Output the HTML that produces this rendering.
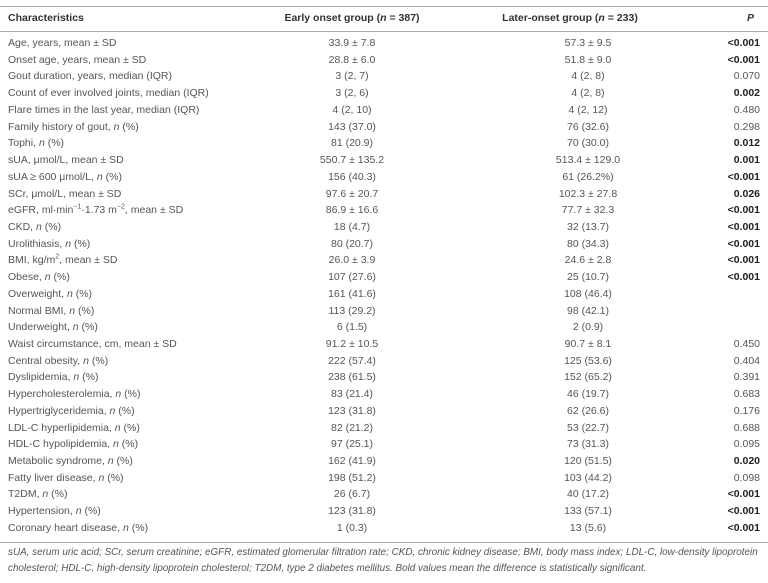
<!DOCTYPE html>
<html><head><meta charset="utf-8"><style>
body{margin:0;width:768px;height:583px;background:#fff;font-family:"Liberation Sans",sans-serif;font-size:10.5px;color:#555;position:relative;overflow:hidden}
.r{position:absolute;left:0;width:768px;height:18px;line-height:18px}
.a{position:absolute;left:8px;white-space:nowrap}
.b{position:absolute;left:272px;width:160px;text-align:center}
.c{position:absolute;left:508px;width:160px;text-align:center}
.d{position:absolute;right:8px;text-align:right}
.bo{font-weight:bold;color:#222}
.ln{position:absolute;left:0;width:768px;background:#aaa}
.h{font-weight:bold;color:#333}
.f{position:absolute;left:8px;font-style:italic;font-size:9.9px;color:#555;white-space:nowrap}
sup{font-size:7px;line-height:0}
</style></head><body>
<div class="ln" style="top:6px;height:1px"></div>
<div class="r h" style="top:9px"><span class="a">Characteristics</span><span class="b" style="left:262px;width:180px">Early onset group (<i>n</i> = 387)</span><span class="c" style="left:480px;width:180px">Later-onset group (<i>n</i> = 233)</span><span class="d" style="right:14px"><i>P</i></span></div>
<div class="ln" style="top:31px;height:1px"></div>
<div id="rows"></div>
<div class="ln" style="top:542px;height:1px"></div>
<div class="f" style="top:547px">sUA, serum uric acid; SCr, serum creatinine; eGFR, estimated glomerular filtration rate; CKD, chronic kidney disease; BMI, body mass index; LDL-C, low-density lipoprotein</div>
<div class="f" style="top:563px">cholesterol; HDL-C, high-density lipoprotein cholesterol; T2DM, type 2 diabetes mellitus. Bold values mean the difference is statistically significant.</div>
<script>
var R=[
["Age, years, mean ± SD","33.9 ± 7.8","57.3 ± 9.5","<0.001",1],
["Onset age, years, mean ± SD","28.8 ± 6.0","51.8 ± 9.0","<0.001",1],
["Gout duration, years, median (IQR)","3 (2, 7)","4 (2, 8)","0.070",0],
["Count of ever involved joints, median (IQR)","3 (2, 6)","4 (2, 8)","0.002",1],
["Flare times in the last year, median (IQR)","4 (2, 10)","4 (2, 12)","0.480",0],
["Family history of gout, <i>n</i> (%)","143 (37.0)","76 (32.6)","0.298",0],
["Tophi, <i>n</i> (%)","81 (20.9)","70 (30.0)","0.012",1],
["sUA, μmol/L, mean ± SD","550.7 ± 135.2","513.4 ± 129.0","0.001",1],
["sUA ≥ 600 μmol/L, <i>n</i> (%)","156 (40.3)","61 (26.2%)","<0.001",1],
["SCr, μmol/L, mean ± SD","97.6 ± 20.7","102.3 ± 27.8","0.026",1],
["eGFR, ml·min<sup>−1</sup>·1.73 m<sup>−2</sup>, mean ± SD","86.9 ± 16.6","77.7 ± 32.3","<0.001",1],
["CKD, <i>n</i> (%)","18 (4.7)","32 (13.7)","<0.001",1],
["Urolithiasis, <i>n</i> (%)","80 (20.7)","80 (34.3)","<0.001",1],
["BMI, kg/m<sup>2</sup>, mean ± SD","26.0 ± 3.9","24.6 ± 2.8","<0.001",1],
["Obese, <i>n</i> (%)","107 (27.6)","25 (10.7)","<0.001",1],
["Overweight, <i>n</i> (%)","161 (41.6)","108 (46.4)","",0],
["Normal BMI, <i>n</i> (%)","113 (29.2)","98 (42.1)","",0],
["Underweight, <i>n</i> (%)","6 (1.5)","2 (0.9)","",0],
["Waist circumstance, cm, mean ± SD","91.2 ± 10.5","90.7 ± 8.1","0.450",0],
["Central obesity, <i>n</i> (%)","222 (57.4)","125 (53.6)","0.404",0],
["Dyslipidemia, <i>n</i> (%)","238 (61.5)","152 (65.2)","0.391",0],
["Hypercholesterolemia, <i>n</i> (%)","83 (21.4)","46 (19.7)","0.683",0],
["Hypertriglyceridemia, <i>n</i> (%)","123 (31.8)","62 (26.6)","0.176",0],
["LDL-C hyperlipidemia, <i>n</i> (%)","82 (21.2)","53 (22.7)","0.688",0],
["HDL-C hypolipidemia, <i>n</i> (%)","97 (25.1)","73 (31.3)","0.095",0],
["Metabolic syndrome, <i>n</i> (%)","162 (41.9)","120 (51.5)","0.020",1],
["Fatty liver disease, <i>n</i> (%)","198 (51.2)","103 (44.2)","0.098",0],
["T2DM, <i>n</i> (%)","26 (6.7)","40 (17.2)","<0.001",1],
["Hypertension, <i>n</i> (%)","123 (31.8)","133 (57.1)","<0.001",1],
["Coronary heart disease, <i>n</i> (%)","1 (0.3)","13 (5.6)","<0.001",1]];
var h="";R.forEach(function(r,i){var t=34+i*16.72;
h+='<div class="r" style="top:'+t.toFixed(1)+'px"><span class="a">'+r[0]+'</span><span class="b">'+r[1]+'</span><span class="c">'+r[2]+'</span><span class="d'+(r[4]?' bo':'')+'">'+r[3].replace('<','&lt;')+'</span></div>';});
document.getElementById("rows").innerHTML=h;
</script>
</body></html>
